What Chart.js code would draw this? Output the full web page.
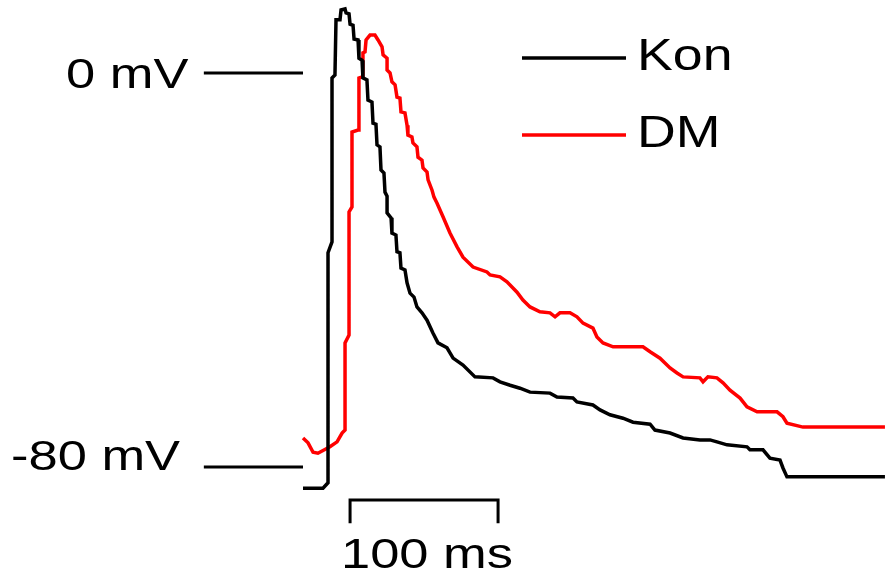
<!DOCTYPE html>
<html>
<head>
<meta charset="utf-8">
<script src="https://cdn.jsdelivr.net/npm/chart.js@4.4.1/dist/chart.umd.min.js"></script>
<style>
  html, body { margin: 0; padding: 0; background: #ffffff; }
  #wrap { width: 885px; height: 579px; position: relative; }
</style>
</head>
<body>
<div id="wrap"><canvas id="c"></canvas></div>
<script>
// Time (ms) and membrane potential (mV)
const konTime = [0, 13.5, 16.9, 16.9, 19.6, 19.6, 21.6, 22.3, 25.0, 25.7, 28.4, 29.1, 31.1, 31.8, 33.8, 34.5, 37.2, 37.8, 39.9, 40.5, 43.2, 43.9, 46.6, 47.3, 49.3, 50.0, 52.0, 52.7, 54.7, 55.4, 56.8, 56.8, 59.5, 60.1, 62.8, 63.5, 65.5, 66.2, 68.9, 70.3, 72.3, 75.0, 77.0, 80.4, 83.8, 87.8, 91.2, 97.3, 101.4, 108.1, 116.2, 128.4, 133.1, 139.9, 146.6, 153.4, 166.9, 171.6, 182.4, 185.1, 195.9, 200.7, 207.4, 216.2, 223.0, 234.5, 237.8, 248.0, 256.8, 268.2, 275.0, 279.7, 286.5, 300.0, 302.0, 310.8, 315.5, 322.3, 324.3, 327.0, 393.2];
const konMv   = [-84.3, -84.3, -83.2, -36.5, -34.3, -1.0, -0.4, 10.8, 10.8, 12.8, 13.0, 12.2, 12.0, 9.9, 9.7, 6.9, 6.7, 3.0, 2.6, -1.0, -1.4, -5.5, -5.9, -10.2, -10.4, -14.6, -15.0, -19.7, -20.3, -24.2, -25.0, -28.4, -29.4, -32.5, -32.9, -36.3, -36.5, -39.6, -40.0, -42.6, -44.7, -45.5, -47.5, -48.7, -50.2, -52.8, -54.8, -55.8, -57.9, -59.3, -61.7, -61.9, -62.7, -63.4, -64.0, -64.8, -65.0, -65.8, -66.0, -66.8, -67.4, -68.4, -69.4, -70.1, -70.9, -71.3, -72.5, -73.1, -74.1, -74.5, -74.5, -74.9, -75.5, -75.9, -76.5, -76.5, -78.2, -78.6, -80.2, -82.0, -82.0];

const dmTime = [0, 3.4, 6.8, 10.1, 18.2, 23.0, 26.4, 28.4, 28.4, 31.1, 31.1, 33.1, 33.1, 37.2, 37.8, 39.9, 40.5, 41.9, 42.6, 45.3, 48.6, 50.7, 53.4, 54.1, 56.8, 56.8, 58.8, 60.1, 62.2, 63.5, 65.5, 66.2, 68.9, 70.3, 70.9, 73.6, 74.3, 77.0, 77.7, 80.4, 81.1, 83.8, 84.5, 87.2, 88.5, 90.5, 94.6, 99.3, 104.1, 108.1, 114.9, 124.3, 126.4, 133.1, 137.8, 144.6, 148.6, 153.4, 160.1, 166.9, 170.3, 173.6, 180.4, 185.1, 189.2, 195.9, 198.6, 202.7, 209.5, 229.7, 234.5, 241.2, 248.0, 252.7, 256.8, 268.2, 270.3, 273.6, 279.7, 283.8, 288.5, 295.3, 300.0, 306.8, 320.3, 324.3, 327.0, 337.8, 393.2];
const dmMv   = [-74.1, -75.1, -77.0, -77.2, -75.9, -74.9, -73.1, -72.5, -54.8, -53.2, -28.2, -27.2, -12.0, -11.6, -1.0, -0.8, 4.1, 4.3, 6.7, 7.7, 7.7, 6.7, 5.3, 3.7, 3.0, 0.6, 0.0, -1.8, -2.4, -4.9, -5.1, -7.9, -8.1, -10.6, -12.6, -13.0, -14.2, -15.0, -17.1, -17.7, -19.3, -20.1, -21.7, -23.8, -25.2, -26.4, -29.2, -32.5, -35.3, -37.4, -39.4, -40.4, -41.0, -41.4, -42.4, -44.5, -46.1, -47.5, -48.5, -48.7, -49.5, -48.7, -48.7, -49.5, -50.8, -51.8, -53.6, -54.8, -55.6, -55.6, -56.6, -57.9, -59.9, -60.9, -61.7, -61.9, -62.7, -61.7, -61.9, -62.9, -64.4, -66.0, -67.8, -68.8, -68.8, -69.8, -71.1, -71.9, -71.9];

const seriesNames = ['Kon', 'DM'];
const seriesColors = ['#000000', '#ff0000'];

// Reference levels and scale bar (in data units)
const refLevels = [0, -80];
const refLabels = ['0 mV', '-80 mV'];
const refStartMs = -67;
const refEndMs = 0;
const barStartMs = 31.8;
const barLengthMs = 100;
const barLabel = '100 ms';
const barMv = -86.7;
const barTickMv = -91.4;

const toPts = (t, v) => t.map((x, i) => ({ x: x, y: v[i] }));

const FONT = '43px "Liberation Sans", Arial, sans-serif';
const SX = 1.22;

function stretchedText(ctx, text, x, y) {
  ctx.save();
  ctx.translate(x, y);
  ctx.scale(SX, 1);
  ctx.fillText(text, 0, 0);
  ctx.restore();
}

const overlay = {
  id: 'overlay',
  afterDatasetsDraw(chart) {
    const ctx = chart.ctx;
    const xs = chart.scales.x, ys = chart.scales.y;
    ctx.save();
    ctx.strokeStyle = '#000';
    ctx.lineWidth = 3;
    ctx.lineCap = 'butt';
    // reference lines
    refLevels.forEach(lv => {
      const py = ys.getPixelForValue(lv);
      ctx.beginPath();
      ctx.moveTo(xs.getPixelForValue(refStartMs), py);
      ctx.lineTo(xs.getPixelForValue(refEndMs), py);
      ctx.stroke();
    });
    // scale bar
    const bx0 = xs.getPixelForValue(barStartMs);
    const bx1 = xs.getPixelForValue(barStartMs + barLengthMs);
    const by = ys.getPixelForValue(barMv);
    const bt = ys.getPixelForValue(barTickMv);
    ctx.beginPath();
    ctx.moveTo(bx0, bt); ctx.lineTo(bx0, by); ctx.lineTo(bx1, by); ctx.lineTo(bx1, bt);
    ctx.stroke();

    ctx.fillStyle = '#000';
    ctx.font = FONT;
    ctx.textBaseline = 'alphabetic';
    ctx.textAlign = 'left';
    stretchedText(ctx, refLabels[0], 66, 88);
    stretchedText(ctx, refLabels[1], 11, 470);
    stretchedText(ctx, barLabel, 341, 568);

    // legend
    const legY = [58, 135];
    const legBase = [70, 147];
    seriesNames.forEach((n, i) => {
      ctx.strokeStyle = seriesColors[i];
      ctx.lineWidth = 3.5;
      ctx.beginPath();
      ctx.moveTo(522, legY[i]);
      ctx.lineTo(626, legY[i]);
      ctx.stroke();
      ctx.fillStyle = '#000';
      ctx.font = '44px "Liberation Sans", Arial, sans-serif';
      stretchedText(ctx, n, 637, legBase[i]);
    });
    ctx.restore();
  }
};

new Chart(document.getElementById('c'), {
  type: 'line',
  data: {
    datasets: [
      { label: seriesNames[0], data: toPts(konTime, konMv), borderColor: seriesColors[0], borderWidth: 3.5, pointRadius: 0, tension: 0, fill: false },
      { label: seriesNames[1], data: toPts(dmTime, dmMv), borderColor: seriesColors[1], borderWidth: 3.5, pointRadius: 0, tension: 0, fill: false }
    ]
  },
  options: {
    responsive: true,
    maintainAspectRatio: false,
    animation: false,
    layout: { padding: 0 },
    plugins: { legend: { display: false }, tooltip: { enabled: false } },
    scales: {
      x: { type: 'linear', display: false, min: -204.73, max: 393.24 },
      y: { type: 'linear', display: false, min: -102.74, max: 14.82 }
    }
  },
  plugins: [overlay]
});
</script>
</body>
</html>
